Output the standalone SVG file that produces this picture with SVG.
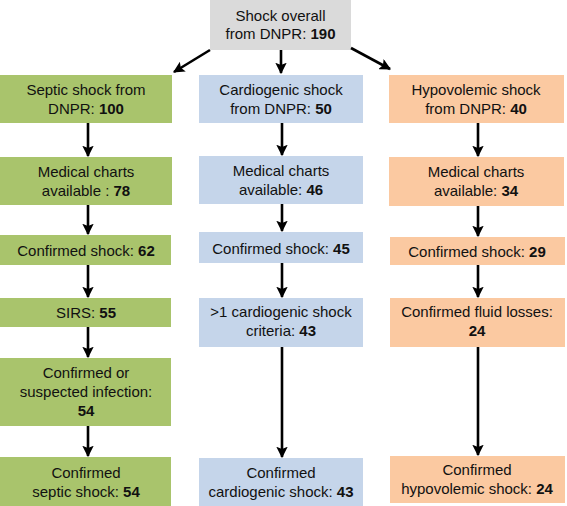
<svg xmlns="http://www.w3.org/2000/svg" width="567" height="506" viewBox="0 0 567 506">
<style>
text{font-family:"Liberation Sans",Arial,sans-serif;font-size:15px;fill:#111;text-anchor:middle}
.b{font-weight:bold}
.g{fill:#a9c46c}
.bl{fill:#c5d5ea}
.o{fill:#fbc9a1}
.gr{fill:#dadada}
.c{stroke:#000;stroke-width:2.6;fill:none;marker-end:url(#ah)}
</style>
<defs>
<marker id="ah" viewBox="0 0 10 10" refX="9" refY="5" markerWidth="4.4" markerHeight="4.4" orient="auto" markerUnits="strokeWidth">
<path d="M0,0 L10,5 L0,10 L2,5 Z" fill="#000"/>
</marker>
</defs>
<rect width="567" height="506" fill="#fff"/>
<g id="top"><rect class="gr" x="210" y="0" width="141" height="50"/><text x="280.5" y="21">Shock overall</text><text x="280.5" y="39">from DNPR: <tspan class="b">190</tspan></text></g>

<g id="s1"><rect class="g" x="0" y="75" width="172" height="48"/><text x="86" y="95">Septic shock from</text><text x="86" y="114">DNPR: <tspan class="b">100</tspan></text></g>
<g id="s2"><rect class="g" x="0" y="157" width="172" height="48"/><text x="86" y="177">Medical charts</text><text x="86" y="196">available : <tspan class="b">78</tspan></text></g>
<g id="s3"><rect class="g" x="0" y="235" width="171" height="30"/><text x="86" y="256">Confirmed shock: <tspan class="b">62</tspan></text></g>
<g id="s4"><rect class="g" x="0" y="298" width="171" height="29"/><text x="86" y="318">SIRS: <tspan class="b">55</tspan></text></g>
<g id="s5"><rect class="g" x="0" y="358" width="171" height="68"/><text x="86" y="378">Confirmed or</text><text x="86" y="397">suspected infection:</text><text x="86" y="416" class="b">54</text></g>
<g id="s6"><rect class="g" x="0" y="457" width="171" height="49"/><text x="86" y="478">Confirmed</text><text x="86" y="497">septic shock: <tspan class="b">54</tspan></text></g>

<g id="c1"><rect class="bl" x="199" y="75" width="164" height="48"/><text x="281" y="95">Cardiogenic shock</text><text x="281" y="114">from DNPR: <tspan class="b">50</tspan></text></g>
<g id="c2"><rect class="bl" x="199" y="156" width="164" height="48"/><text x="281" y="176">Medical charts</text><text x="281" y="195">available: <tspan class="b">46</tspan></text></g>
<g id="c3"><rect class="bl" x="199" y="232" width="164" height="31"/><text x="281" y="254">Confirmed shock: <tspan class="b">45</tspan></text></g>
<g id="c4"><rect class="bl" x="199" y="298" width="164" height="49"/><text x="281" y="317">&gt;1 cardiogenic shock</text><text x="281" y="336">criteria: <tspan class="b">43</tspan></text></g>
<g id="c5"><rect class="bl" x="199" y="458" width="164" height="48"/><text x="281" y="478">Confirmed</text><text x="281" y="497">cardiogenic shock: <tspan class="b">43</tspan></text></g>

<g id="h1"><rect class="o" x="389" y="75" width="175" height="48"/><text x="476" y="95">Hypovolemic shock</text><text x="476" y="114">from DNPR: <tspan class="b">40</tspan></text></g>
<g id="h2"><rect class="o" x="389" y="157" width="175" height="49"/><text x="476" y="177">Medical charts</text><text x="476" y="196">available: <tspan class="b">34</tspan></text></g>
<g id="h3"><rect class="o" x="390" y="237" width="175" height="28"/><text x="477" y="257">Confirmed shock: <tspan class="b">29</tspan></text></g>
<g id="h4"><rect class="o" x="390" y="298" width="175" height="49"/><text x="477" y="317">Confirmed fluid losses:</text><text x="477" y="336" class="b">24</text></g>
<g id="h5"><rect class="o" x="390" y="456" width="175" height="47"/><text x="477" y="475">Confirmed</text><text x="477" y="494">hypovolemic shock: <tspan class="b">24</tspan></text></g>

<g id="connectors">
<line class="c" x1="210" y1="50" x2="174" y2="72"/>
<line class="c" x1="281" y1="50" x2="281" y2="73"/>
<line class="c" x1="351" y1="48" x2="390" y2="69"/>
<line class="c" x1="88" y1="123" x2="88" y2="156"/>
<line class="c" x1="88" y1="205" x2="88" y2="234"/>
<line class="c" x1="88" y1="265" x2="88" y2="297"/>
<line class="c" x1="88" y1="327" x2="88" y2="357"/>
<line class="c" x1="88" y1="426" x2="88" y2="456"/>
<line class="c" x1="282" y1="123" x2="282" y2="155"/>
<line class="c" x1="282" y1="204" x2="282" y2="231"/>
<line class="c" x1="282" y1="263" x2="282" y2="297"/>
<line class="c" x1="282" y1="347" x2="282" y2="457"/>
<line class="c" x1="478" y1="123" x2="478" y2="156"/>
<line class="c" x1="478" y1="206" x2="478" y2="236"/>
<line class="c" x1="478" y1="265" x2="478" y2="297"/>
<line class="c" x1="478" y1="347" x2="478" y2="455"/>
</g>
</svg>
